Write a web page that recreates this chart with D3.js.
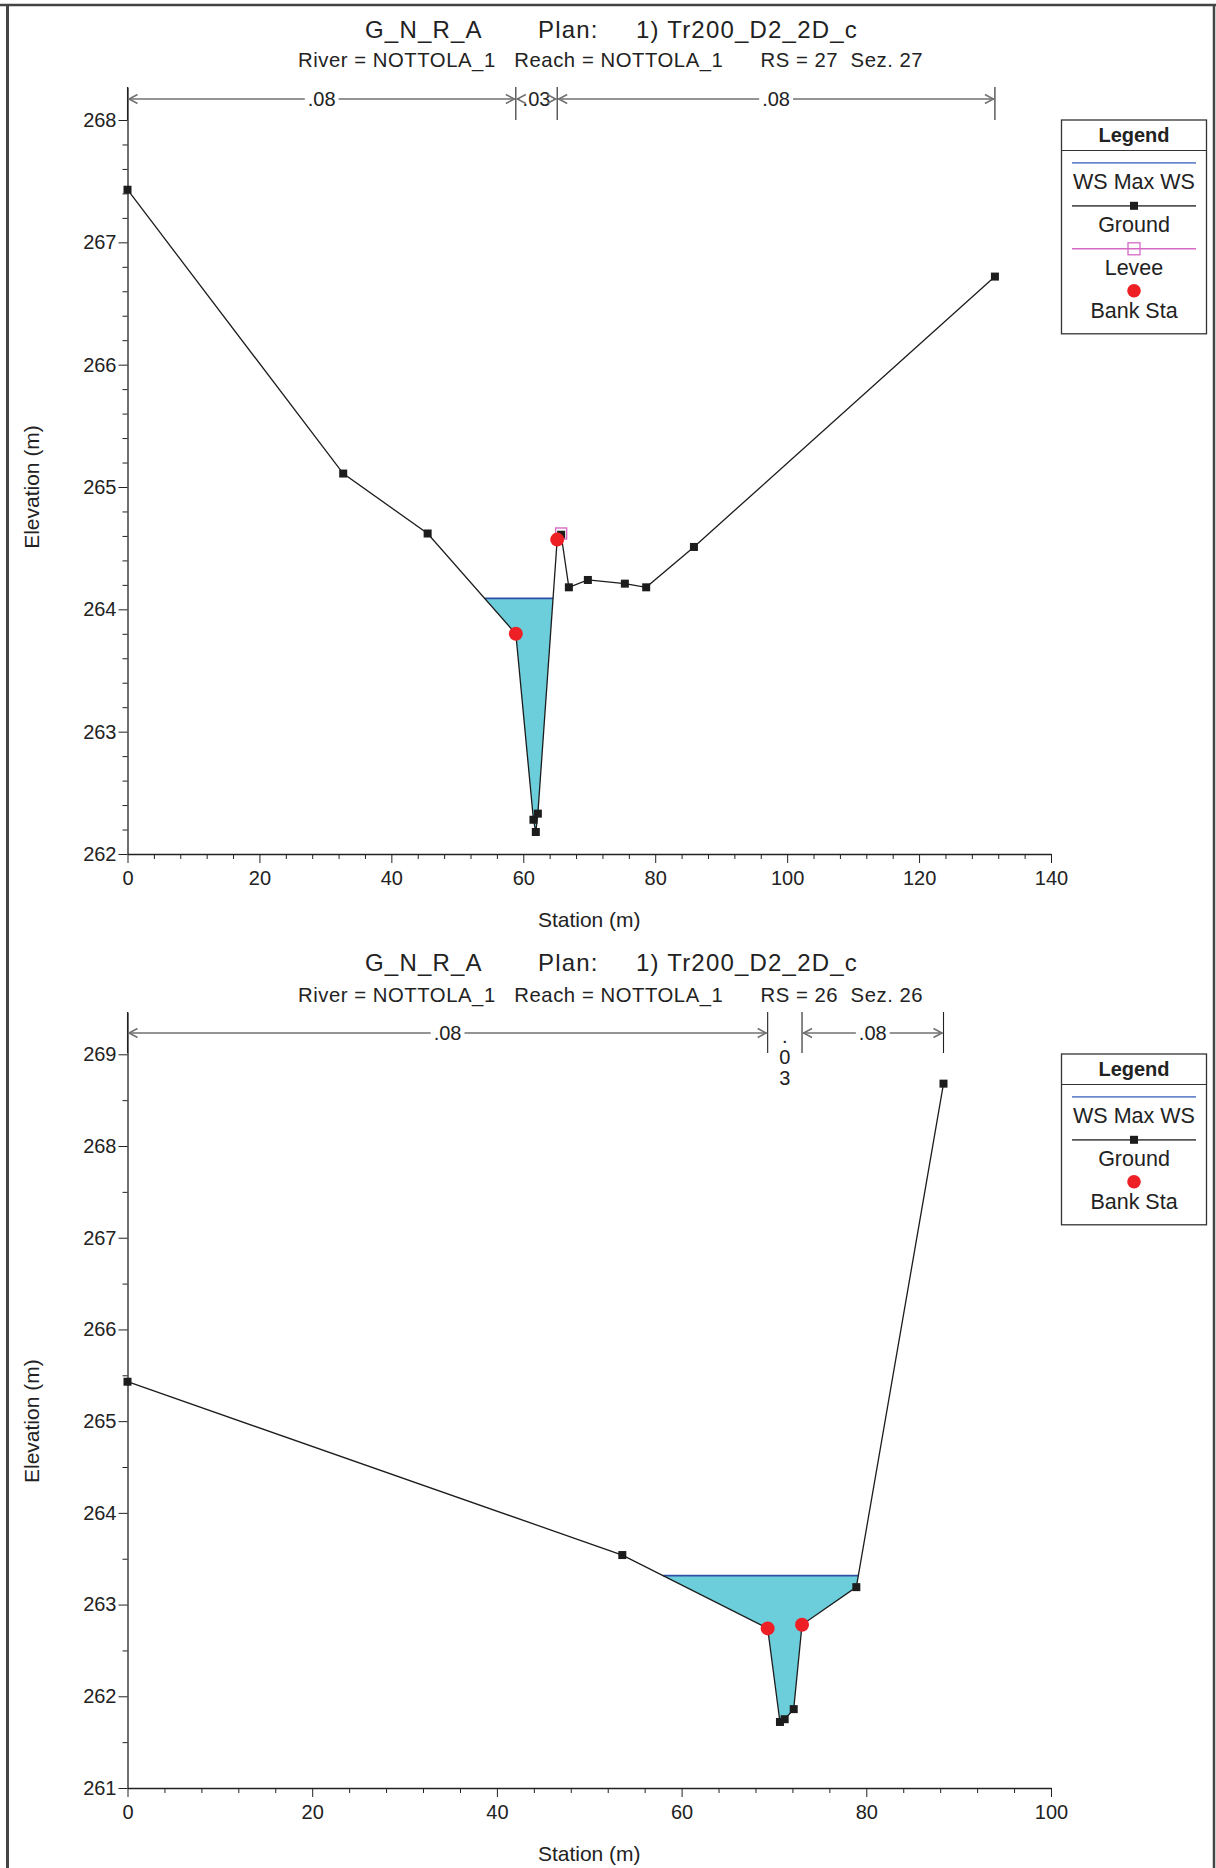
<!DOCTYPE html>
<html><head><meta charset="utf-8">
<script src="https://cdn.jsdelivr.net/npm/d3@7"></script>
<style>
body{margin:0;background:#fff}
svg{display:block}
text{font-family:"Liberation Sans",Arial,Helvetica,sans-serif;fill:#222}
</style>
</head><body>
<svg id="chart" width="1216" height="1868"></svg>
<script>
// ---------------- data ----------------
const titleParts = ["G_N_R_A", "Plan:", "1) Tr200_D2_2D_c"];
const subtitleTop = "River = NOTTOLA_1   Reach = NOTTOLA_1      RS = 27  Sez. 27";
const subtitleBot = "River = NOTTOLA_1   Reach = NOTTOLA_1      RS = 26  Sez. 26";
const xAxisLabel = "Station (m)";
const yAxisLabel = "Elevation (m)";

// RS 27
const xTicksTop = [0, 20, 40, 60, 80, 100, 120, 140];
const yTicksTop = [262, 263, 264, 265, 266, 267, 268];
const stationTop = [0, 32.7, 45.5, 58.87, 61.54, 61.9, 62.21, 65.14, 65.74, 66.91, 69.79, 75.4, 78.63, 85.87, 131.5];
const elevTop    = [267.43, 265.11, 264.62, 263.80, 262.28, 262.18, 262.33, 264.57, 264.61, 264.18, 264.24, 264.21, 264.18, 264.51, 266.72];
const wsTop = 264.09;
const bankStaTop = [58.87, 65.14];
const leveeStaTop = [65.74];
const leveeElevTop = [264.62];
const nBreaksTop = [0, 58.87, 65.14, 131.5];
const nValuesTop = [".08", ".03", ".08"];
const legendTop = ["WS Max WS", "Ground", "Levee", "Bank Sta"];

// RS 26
const xTicksBot = [0, 20, 40, 60, 80, 100];
const yTicksBot = [261, 262, 263, 264, 265, 266, 267, 268, 269];
const stationBot = [0, 53.58, 69.32, 70.65, 71.16, 72.14, 73.04, 78.92, 88.36];
const elevBot    = [265.43, 263.54, 262.74, 261.72, 261.75, 261.86, 262.78, 263.19, 268.68];
const wsBot = 263.315;
const bankStaBot = [69.32, 73.04];
const leveeStaBot = [];
const leveeElevBot = [];
const nBreaksBot = [0, 69.32, 73.04, 88.36];
const nValuesBot = [".08", ".03", ".08"];
const legendBot = ["WS Max WS", "Ground", "Bank Sta"];

// ---------------- styles ----------------
const C = {
  ground: "#1c1c1c", ws: "#2f4fa6", wsFill: "#6ccddb", bank: "#ee2026",
  levee: "#d46ac4", grid: "#222", arrow: "#707070", legendWS: "#6a88cc", legendGround: "#555"
};

const svg = d3.select("#chart");

// page frame
svg.append("line").attr("x1", 0).attr("x2", 1216).attr("y1", 5).attr("y2", 5).attr("stroke", "#444").attr("stroke-width", 2.5);
svg.append("line").attr("x1", 7.5).attr("x2", 7.5).attr("y1", 4).attr("y2", 1868).attr("stroke", "#444").attr("stroke-width", 3);
svg.append("line").attr("x1", 1214).attr("x2", 1214).attr("y1", 4).attr("y2", 1868).attr("stroke", "#444").attr("stroke-width", 2.5);

function wetRegions(sta, elev, ws) {
  const regions = []; let cur = null;
  for (let i = 0; i < sta.length; i++) {
    const below = elev[i] < ws;
    if (i > 0) {
      const pb = elev[i - 1] < ws;
      if (pb !== below) {
        const t = (ws - elev[i - 1]) / (elev[i] - elev[i - 1]);
        const xc = sta[i - 1] + t * (sta[i] - sta[i - 1]);
        if (!pb) { cur = [[xc, ws]]; }
        else if (cur) { cur.push([xc, ws]); regions.push(cur); cur = null; }
      }
    }
    if (below && cur) cur.push([sta[i], elev[i]]);
  }
  return regions;
}

function drawPanel(cfg) {
  const g = svg.append("g");
  const x = d3.scaleLinear().domain([cfg.xTicks[0], cfg.xTicks[cfg.xTicks.length - 1]]).range(cfg.xRange);
  const y = d3.scaleLinear().domain([cfg.yTicks[0], cfg.yTicks[cfg.yTicks.length - 1]]).range(cfg.yRange);
  const yAx = y.copy().domain([cfg.yTicks[0], y.invert(cfg.axisTop)]).range([cfg.yRange[0], cfg.axisTop]);
  const x0 = cfg.xRange[0], yBase = cfg.yRange[0];

  // titles
  const t = g.append("text").attr("y", cfg.titleY).style("font-size", "24px").style("letter-spacing", "1.2px");
  titleParts.forEach((p, i) => t.append("tspan").attr("x", cfg.titleX[i]).text(p));
  g.append("text").attr("x", cfg.subX).attr("y", cfg.subY).attr("xml:space", "preserve")
    .style("white-space", "pre").style("font-size", "20.3px").style("letter-spacing", "0.55px").text(cfg.subtitle);

  // y minor ticks
  const yMinor = d3.range(cfg.yTicks[0], cfg.yTicks[cfg.yTicks.length - 1] + 1e-6, cfg.yMinorStep)
    .filter(v => Math.abs(v - Math.round(v)) > 1e-6);
  g.append("g").attr("transform", `translate(${x0},0)`)
    .call(d3.axisLeft(yAx).tickValues(yMinor).tickSize(5).tickFormat(""))
    .call(s => s.select(".domain").remove())
    .call(s => s.selectAll("line").attr("stroke", C.grid));
  const ya = g.append("g").attr("transform", `translate(${x0},0)`)
    .call(d3.axisLeft(yAx).tickValues(cfg.yTicks).tickSize(9).tickPadding(2).tickSizeOuter(0).tickFormat(d3.format("d")));
  ya.selectAll("text").style("font-size", "20px").attr("fill", "#222");
  ya.selectAll("line").attr("stroke", C.grid);
  ya.select(".domain").attr("stroke", C.grid).attr("stroke-width", 1.3);

  // x minor ticks
  const xMinor = d3.range(cfg.xTicks[0], cfg.xTicks[cfg.xTicks.length - 1] + 1e-6, 4).filter(v => v % 20 !== 0);
  g.append("g").attr("transform", `translate(0,${yBase})`)
    .call(d3.axisBottom(x).tickValues(xMinor).tickSize(5).tickFormat(""))
    .call(s => s.select(".domain").remove())
    .call(s => s.selectAll("line").attr("stroke", C.grid));
  const xa = g.append("g").attr("transform", `translate(0,${yBase})`)
    .call(d3.axisBottom(x).tickValues(cfg.xTicks).tickSize(9).tickPadding(8).tickSizeOuter(0));
  xa.selectAll("text").style("font-size", "20px").attr("fill", "#222");
  xa.selectAll("line").attr("stroke", C.grid);
  xa.select(".domain").attr("stroke", C.grid).attr("stroke-width", 1.3);

  // axis labels
  g.append("text").attr("x", (cfg.xRange[0] + cfg.xRange[1]) / 2).attr("y", yBase + 73)
    .attr("text-anchor", "middle").style("font-size", "21px").text(xAxisLabel);
  const ym = (cfg.yRange[0] + cfg.yRange[1]) / 2;
  g.append("text").attr("transform", `translate(39,${ym}) rotate(-90)`)
    .attr("text-anchor", "middle").style("font-size", "21px").text(yAxisLabel);

  // Manning's n dividers
  cfg.nBreaks.forEach(b => {
    g.append("line").attr("x1", x(b)).attr("x2", x(b)).attr("y1", cfg.axisTop).attr("y2", cfg.divBottom)
      .attr("stroke", C.grid).attr("stroke-width", 1.1);
  });
  const ay = cfg.arrowY;
  cfg.nValues.forEach((lab, k) => {
    const a = x(cfg.nBreaks[k]), b = x(cfg.nBreaks[k + 1]);
    const cx = (a + b) / 2;
    if (b - a < 36) {
      lab.split("").forEach((ch, i) => {
        g.append("text").attr("x", cx).attr("y", ay + 10 + i * 21).attr("text-anchor", "middle")
          .style("font-size", "20px").text(ch);
      });
      return;
    }
    const tx = g.append("text").attr("x", cx).attr("y", ay + 7).attr("text-anchor", "middle")
      .style("font-size", "20px").text(lab);
    const half = tx.node().getComputedTextLength() / 2 + 3;
    if (cx - half > a + 1) g.append("line").attr("x1", a + 1).attr("x2", cx - half).attr("y1", ay).attr("y2", ay)
      .attr("stroke", C.arrow).attr("stroke-width", 1.7);
    if (b - 1 > cx + half) g.append("line").attr("x1", cx + half).attr("x2", b - 1).attr("y1", ay).attr("y2", ay)
      .attr("stroke", C.arrow).attr("stroke-width", 1.7);
    g.append("path").attr("d", `M${a + 10},${ay - 4.5}L${a + 1.5},${ay}L${a + 10},${ay + 4.5}`)
      .attr("fill", "none").attr("stroke", C.arrow).attr("stroke-width", 1.5);
    g.append("path").attr("d", `M${b - 10},${ay - 4.5}L${b - 1.5},${ay}L${b - 10},${ay + 4.5}`)
      .attr("fill", "none").attr("stroke", C.arrow).attr("stroke-width", 1.5);
  });

  // water
  const pts = cfg.station.map((s, i) => [s, cfg.elev[i]]);
  const line = d3.line().x(d => x(d[0])).y(d => y(d[1]));
  wetRegions(cfg.station, cfg.elev, cfg.ws).forEach(r => {
    g.append("path").attr("d", line(r) + "Z").attr("fill", C.wsFill).attr("stroke", "none");
    const l = r[0][0], rr = r[r.length - 1][0];
    g.append("line").attr("x1", x(l)).attr("x2", x(rr)).attr("y1", y(cfg.ws)).attr("y2", y(cfg.ws))
      .attr("stroke", C.ws).attr("stroke-width", 1.8);
  });

  // ground
  g.append("path").attr("d", line(pts)).attr("fill", "none").attr("stroke", C.ground).attr("stroke-width", 1.3);
  g.selectAll(null).data(pts).enter().append("rect")
    .attr("x", d => x(d[0]) - 4).attr("y", d => y(d[1]) - 4).attr("width", 8).attr("height", 8).attr("fill", C.ground);

  // levee
  cfg.leveeSta.forEach((s, i) => {
    g.append("rect").attr("x", x(s) - 5.5).attr("y", y(cfg.leveeElev[i]) - 5.5).attr("width", 11).attr("height", 11)
      .attr("fill", "none").attr("stroke", C.levee).attr("stroke-width", 1.4);
  });

  // bank stations
  cfg.bankSta.forEach(s => {
    const ev = d3.scaleLinear().domain(cfg.station).range(cfg.elev)(s);
    g.append("circle").attr("cx", x(s)).attr("cy", y(ev)).attr("r", 7).attr("fill", C.bank);
  });

  // legend
  const L = cfg.legend;
  const lx = 1061.5, lw = 145, ly = cfg.legendY;
  const sep = ly + 30.5;
  const lh = 30.5 + 12.3 + (L.length - 1) * 43 + 19 + 23;
  const lg = g.append("g");
  lg.append("rect").attr("x", lx).attr("y", ly).attr("width", lw).attr("height", lh)
    .attr("fill", "#fff").attr("stroke", "#333").attr("stroke-width", 1.3);
  lg.append("line").attr("x1", lx).attr("x2", lx + lw).attr("y1", sep).attr("y2", sep).attr("stroke", "#333").attr("stroke-width", 1.1);
  lg.append("text").attr("x", lx + lw / 2).attr("y", ly + 22).attr("text-anchor", "middle")
    .style("font-size", "20px").style("font-weight", "bold").text("Legend");
  const lcx = lx + lw / 2;
  L.forEach((name, k) => {
    const sy = sep + 12.3 + k * 43;
    if (name === "WS Max WS") {
      lg.append("line").attr("x1", lx + 10.5).attr("x2", lx + lw - 10.5).attr("y1", sy).attr("y2", sy)
        .attr("stroke", C.legendWS).attr("stroke-width", 1.8);
    } else if (name === "Ground") {
      lg.append("line").attr("x1", lx + 10.5).attr("x2", lx + lw - 10.5).attr("y1", sy).attr("y2", sy)
        .attr("stroke", C.legendGround).attr("stroke-width", 1.8);
      lg.append("rect").attr("x", lcx - 4).attr("y", sy - 4).attr("width", 8).attr("height", 8).attr("fill", C.ground);
    } else if (name === "Levee") {
      lg.append("line").attr("x1", lx + 10.5).attr("x2", lx + lw - 10.5).attr("y1", sy).attr("y2", sy)
        .attr("stroke", C.levee).attr("stroke-width", 1.4);
      lg.append("rect").attr("x", lcx - 6).attr("y", sy - 6).attr("width", 12).attr("height", 12)
        .attr("fill", "none").attr("stroke", C.levee).attr("stroke-width", 1.3);
    } else {
      lg.append("circle").attr("cx", lcx).attr("cy", sy - 1).attr("r", 6.8).attr("fill", C.bank);
    }
    lg.append("text").attr("x", lcx).attr("y", sy + 26.5).attr("text-anchor", "middle")
      .style("font-size", "21.5px").text(name);
  });
}

drawPanel({
  xTicks: xTicksTop, yTicks: yTicksTop, yMinorStep: 0.2,
  xRange: [127.5, 1051], yRange: [854, 120], axisTop: 87,
  titleX: [365, 538, 636], titleY: 37.5, subX: 298, subY: 67, subtitle: subtitleTop,
  divBottom: 120, arrowY: 99,
  station: stationTop, elev: elevTop, ws: wsTop, bankSta: bankStaTop,
  leveeSta: leveeStaTop, leveeElev: leveeElevTop,
  nBreaks: nBreaksTop, nValues: nValuesTop, legend: legendTop, legendY: 120
});

drawPanel({
  xTicks: xTicksBot, yTicks: yTicksBot, yMinorStep: 0.5,
  xRange: [127.5, 1051], yRange: [1788, 1054.3], axisTop: 1012,
  titleX: [365, 538, 636], titleY: 971, subX: 298, subY: 1001.5, subtitle: subtitleBot,
  divBottom: 1053, arrowY: 1033,
  station: stationBot, elev: elevBot, ws: wsBot, bankSta: bankStaBot,
  leveeSta: leveeStaBot, leveeElev: leveeElevBot,
  nBreaks: nBreaksBot, nValues: nValuesBot, legend: legendBot, legendY: 1054
});
</script>
</body></html>
